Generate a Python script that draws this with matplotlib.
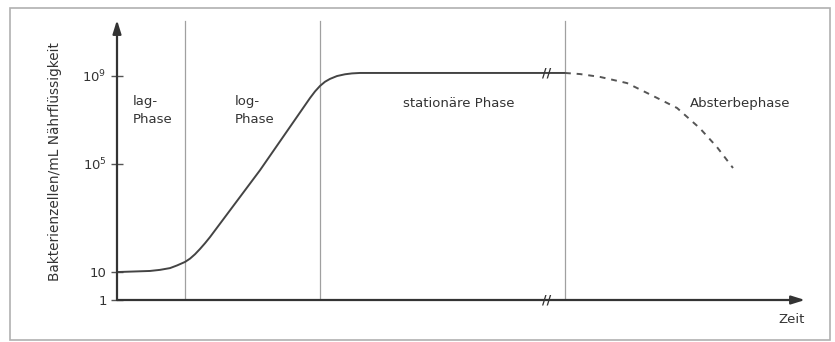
import matplotlib.pyplot as plt
from matplotlib.patches import Rectangle

# =====================
# Daten (schematisch)
# =====================

# Zeitachse in willkürlichen Einheiten, y in "Dekaden" (Achse nicht maßstäblich)
zeit_wachstum = [0, 3.3, 4.3, 5.3, 6.0, 6.8, 7.3, 7.8, 8.3, 8.8, 9.3, 14.3,
                 19.3, 19.8, 20.3, 20.8, 21.3, 22.0, 22.8, 23.5, 24.3, 44.8]
zellen_wachstum = [1.27, 1.32, 1.37, 1.45, 1.57, 1.73, 1.88, 2.08, 2.32, 2.58,
                   2.86, 5.9, 9.18, 9.48, 9.73, 9.92, 10.05, 10.18, 10.26,
                   10.3, 10.32, 10.32]

zeit_absterben = [44.8, 46.3, 48.3, 51.0, 53.5, 56.0, 58.3, 60.0, 61.6]
zellen_absterben = [10.32, 10.27, 10.14, 9.86, 9.3, 8.73, 7.8, 6.95, 6.0]

phasen_grenzen = [6.8, 20.3, 44.8]

ytick_pos = [0, 1.27, 6.2, 10.2]
ytick_labels = ['1', '10', '10$^5$', '10$^9$']

bruch_x = 43.0

plt.rcParams['font.family'] = ['DejaVu Sans']

# =====================
# Figure / Axes
# =====================

fig = plt.figure(figsize=(8.35, 3.42), dpi=100)
ax = fig.add_axes([117 / 835, 42 / 342, 688 / 835, 280 / 342])

xmax = 68.8
ymax = 280 / 22
ax.set_xlim(0, xmax)
ax.set_ylim(0, ymax)

for s in ax.spines.values():
    s.set_visible(False)

# Rahmen
fig.patches.append(Rectangle((10 / 835, 2 / 342), 820 / 835, 332 / 342,
                             transform=fig.transFigure, fill=False,
                             edgecolor='#b0b0b0', linewidth=1.2))

# Achsen mit Pfeilen
arrow = dict(arrowstyle='-|>,head_length=0.8,head_width=0.25',
             color='#333333', linewidth=1.6, shrinkA=0, shrinkB=0)
ax.annotate('', xy=(xmax, 0), xytext=(0, 0), arrowprops=arrow)
ax.annotate('', xy=(0, ymax), xytext=(0, 0), arrowprops=arrow)

# Phasengrenzen
for gx in phasen_grenzen:
    ax.plot([gx, gx], [0, ymax - 0.05], color='#a0a0a0', linewidth=0.9)

# Kurve
ax.plot(zeit_wachstum, zellen_wachstum, color='#444444', linewidth=1.4)
ax.plot(zeit_absterben, zellen_absterben, color='#555555', linewidth=1.4,
        linestyle=(0, (3, 3)))

# Bruchzeichen
for by in [zellen_wachstum[-1], 0]:
    ax.text(bruch_x, by, '//', ha='center', va='center', fontsize=9,
            fontweight='bold', color='#333333')

# Ticks
ax.set_xticks([])
ax.set_yticks(ytick_pos)
ax.set_yticklabels(ytick_labels, fontsize=9.5, color='#333333')
ax.tick_params(axis='y', direction='inout', length=9, width=1.0,
               color='#555555', pad=3)

# Beschriftungen
txt = dict(fontsize=9.5, color='#333333')
ax.text(1.6, 8.6, 'lag-\nPhase', ha='left', va='center', linespacing=1.5, **txt)
ax.text(11.8, 8.6, 'log-\nPhase', ha='left', va='center', linespacing=1.5, **txt)
ax.text(28.6, 8.95, 'stationäre Phase', ha='left', va='center', **txt)
ax.text(57.3, 8.95, 'Absterbephase', ha='left', va='center', **txt)
ax.text(xmax, -0.9, 'Zeit', ha='right', va='center', **txt)

fig.text(55 / 835, 1 - 162 / 342, 'Bakterienzellen/mL Nährflüssigkeit',
         rotation=90, ha='center', va='center', fontsize=9.8, color='#333333')

fig.savefig('out.png', dpi=100)
